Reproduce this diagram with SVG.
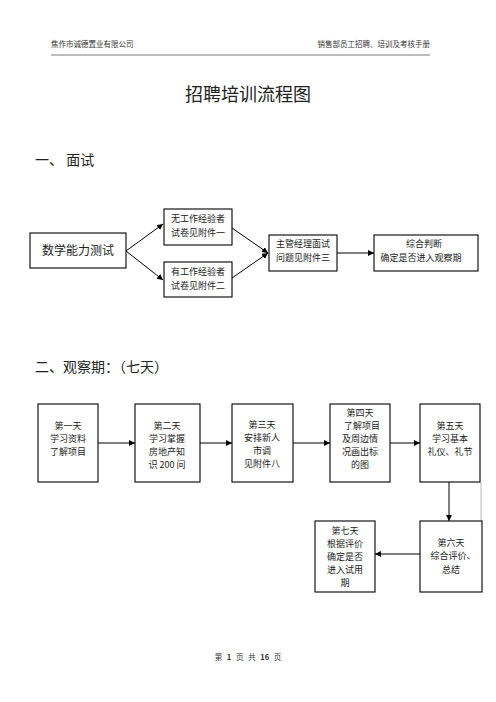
<svg xmlns="http://www.w3.org/2000/svg" width="496" height="702" viewBox="0 0 496 702">
<defs>
<style>
text{font-family:"Noto Sans CJK SC","Liberation Serif",serif;fill:#222;}
.hd{font-size:7.5px;fill:#333;}
.t9{font-size:9px;text-anchor:middle;}
.t10{font-size:9px;text-anchor:middle;}
.box{fill:#fff;stroke:#000;stroke-width:1.1;}
.ln{fill:none;stroke:#000;stroke-width:1;}
</style>
<marker id="ah" markerUnits="userSpaceOnUse" markerWidth="7" markerHeight="7" refX="6" refY="3" orient="auto">
<path d="M0,0 L6,3 L0,6 z" fill="#000"/>
</marker>
</defs>
<rect width="496" height="702" fill="#fff"/>
<g id="header">
<text class="hd" x="51" y="47">焦作市诚德置业有限公司</text>
<text class="hd" x="430" y="47" text-anchor="end">销售部员工招聘、培训及考核手册</text>
<line x1="51" y1="55" x2="430" y2="55" stroke="#555" stroke-width="0.8"/>
</g>
<text x="248" y="101" font-size="18" text-anchor="middle" fill="#111">招聘培训流程图</text>
<text x="35" y="165" font-size="14">一、 面试</text>
<text x="35" y="372" font-size="14">二、观察期：（七天）</text>
<g id="connectors">
<line class="ln" x1="126" y1="251" x2="163" y2="224" marker-end="url(#ah)"/>
<line class="ln" x1="126" y1="251" x2="163" y2="280" marker-end="url(#ah)"/>
<line class="ln" x1="232" y1="228" x2="268" y2="253" marker-end="url(#ah)"/>
<line class="ln" x1="232" y1="278" x2="268" y2="253" marker-end="url(#ah)"/>
<line class="ln" x1="337" y1="253" x2="374" y2="253" marker-end="url(#ah)"/>
<line class="ln" x1="98" y1="443" x2="135" y2="443" marker-end="url(#ah)"/>
<line class="ln" x1="200" y1="443" x2="232" y2="443" marker-end="url(#ah)"/>
<line class="ln" x1="293" y1="443" x2="330" y2="443" marker-end="url(#ah)"/>
<line class="ln" x1="390" y1="443" x2="420" y2="443" marker-end="url(#ah)"/>
<line class="ln" x1="449" y1="482" x2="449" y2="521" marker-end="url(#ah)"/>
<line x1="481" y1="482" x2="481" y2="521" stroke="#aaa" stroke-width="0.8"/>
<line class="ln" x1="420" y1="554" x2="375" y2="554" marker-end="url(#ah)"/>
</g>
<g id="n-math">
<rect class="box" x="30" y="233" width="96" height="35"/>
<text x="78" y="255" font-size="12" text-anchor="middle">数学能力测试</text>
</g>
<g id="n-noexp">
<rect class="box" x="164" y="209" width="68" height="36"/>
<text class="t9" x="198" y="222">无工作经验者</text>
<text class="t9" x="198" y="236">试卷见附件一</text>
</g>
<g id="n-exp">
<rect class="box" x="164" y="262" width="68" height="35"/>
<text class="t9" x="198" y="275">有工作经验者</text>
<text class="t9" x="198" y="289">试卷见附件二</text>
</g>
<g id="n-manager">
<rect class="box" x="269" y="235" width="68" height="36"/>
<text class="t9" x="303" y="247">主管经理面试</text>
<text class="t9" x="303" y="261">问题见附件三</text>
</g>
<g id="n-judge">
<rect class="box" x="374" y="235" width="104" height="36"/>
<text class="t9" x="424" y="247">综合判断</text>
<text class="t9" x="421" y="261">确定是否进入观察期</text>
</g>
<g id="n-day1">
<rect class="box" x="38" y="404" width="60" height="78"/>
<text class="t10" x="68" y="429">第一天</text>
<text class="t10" x="68" y="442">学习资料</text>
<text class="t10" x="68" y="455">了解项目</text>
</g>
<g id="n-day2">
<rect class="box" x="135" y="404" width="65" height="78"/>
<text class="t10" x="167" y="429">第二天</text>
<text class="t10" x="167" y="442">学习掌握</text>
<text class="t10" x="167" y="455">房地产知</text>
<text class="t10" x="167" y="468">识 200 问</text>
</g>
<g id="n-day3">
<rect class="box" x="232" y="404" width="61" height="78"/>
<text class="t10" x="262" y="428">第三天</text>
<text class="t10" x="262" y="441">安排新人</text>
<text class="t10" x="262" y="454">市调</text>
<text class="t10" x="262" y="467">见附件八</text>
</g>
<g id="n-day4">
<rect class="box" x="330" y="404" width="60" height="78"/>
<text class="t10" x="360" y="416">第四天</text>
<text class="t10" x="362" y="429">了解项目</text>
<text class="t10" x="360" y="442">及周边情</text>
<text class="t10" x="360" y="455">况画出标</text>
<text class="t10" x="360" y="468">的图</text>
</g>
<g id="n-day5">
<rect class="box" x="420" y="404" width="60" height="78"/>
<text class="t10" x="450" y="429">第五天</text>
<text class="t10" x="450" y="442">学习基本</text>
<text class="t10" x="450" y="455">礼仪、礼节</text>
</g>
<g id="n-day6">
<rect class="box" x="420" y="521" width="62" height="71"/>
<text class="t10" x="451" y="546">第六天</text>
<text class="t10" x="453" y="559">综合评价、</text>
<text class="t10" x="451" y="573">总结</text>
</g>
<g id="n-day7">
<rect class="box" x="315" y="521" width="60" height="71"/>
<text class="t10" x="345" y="534">第七天</text>
<text class="t10" x="345" y="547">根据评价</text>
<text class="t10" x="345" y="560">确定是否</text>
<text class="t10" x="345" y="573">进入试用</text>
<text class="t10" x="345" y="586">期</text>
</g>
<g id="footer">
<text class="hd" x="248" y="660" text-anchor="middle" word-spacing="3">第 <tspan font-weight="bold">1</tspan> 页 共 <tspan font-weight="bold">16</tspan> 页</text>
</g>
</svg>
